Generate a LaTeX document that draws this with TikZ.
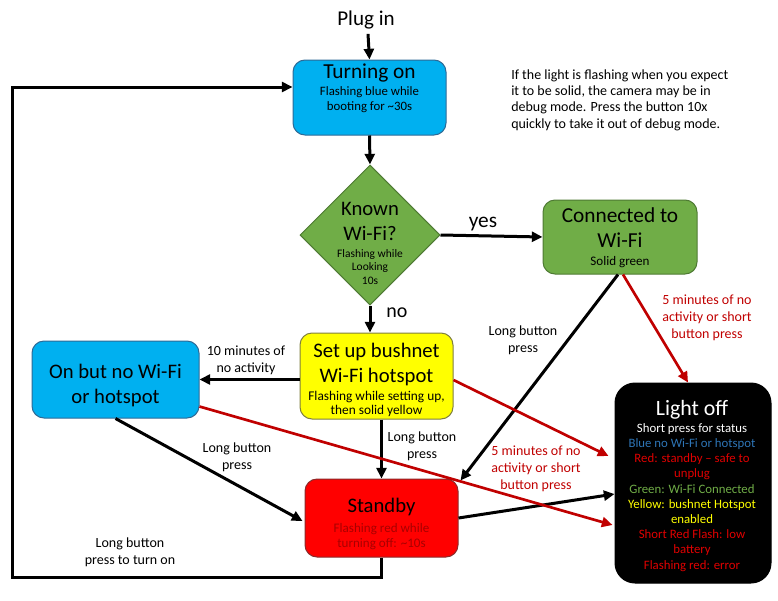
\documentclass[tikz,border=0pt]{standalone}
\usepackage{fontspec}
\setmainfont{Carlito}
\usetikzlibrary{shapes.geometric,arrows.meta,calc}
\definecolor{cyanfill}{HTML}{00B0F0}
\definecolor{cyanline}{HTML}{2E6A96}
\definecolor{greenfill}{HTML}{70AD47}
\definecolor{greenline}{HTML}{4E7A33}
\definecolor{yellowfill}{HTML}{FFFF00}
\definecolor{yellowline}{HTML}{7F7F40}
\definecolor{redfill}{HTML}{FF0000}
\definecolor{redline}{HTML}{8B2B2B}
\definecolor{darkred}{HTML}{C00000}
\definecolor{sbtext}{HTML}{A80000}
\definecolor{lblue}{HTML}{2E75B6}
\definecolor{lred}{HTML}{E00000}
\definecolor{lgreen}{HTML}{70AD47}
\definecolor{lyellow}{HTML}{FFFF00}
\begin{document}
\begin{tikzpicture}[x=0.75pt,y=-0.75pt,
  box/.style={draw, line width=0.75pt, rounded corners=9pt, inner sep=0pt},
  txt/.style={inner sep=0pt, anchor=base, align=center},
  bigtxt/.style={txt, font=\fontsize{16}{18.75}\selectfont},
  smalltxt/.style={txt, font=\fontsize{9.8}{11.25}\selectfont},
  lab/.style={txt, font=\fontsize{10.5}{12.4}\selectfont},
  redlab/.style={lab, text=darkred},
  arr/.style={-{Triangle[length=8pt,width=7.5pt]}, line width=2.25pt},
  redarr/.style={arr, draw=darkred, line width=2pt}]
\useasboundingbox (0,0) rectangle (778,600);

% boxes
\node[box, fill=cyanfill, draw=cyanline, minimum width=114.75pt, minimum height=56.25pt] (on) at (369.5,97.5) {};
\node[diamond, draw=greenline, fill=greenfill, line width=0.75pt, inner sep=0pt, minimum width=105pt, minimum height=105pt] (kw) at (370,235) {};
\node[box, fill=greenfill, draw=greenline, minimum width=115.5pt, minimum height=55.5pt] (conn) at (620,237) {};
\node[box, fill=yellowfill, draw=yellowline, minimum width=114.75pt, minimum height=64.5pt] (setup) at (376.5,376) {};
\node[box, fill=cyanfill, draw=cyanline, minimum width=125.25pt, minimum height=57.75pt] (onbut) at (115.5,379.5) {};
\node[box, fill=redfill, draw=redline, minimum width=114.75pt, minimum height=58.5pt] (sb) at (381.5,518) {};
\node[box, fill=black, draw=black, rounded corners=15pt, minimum width=117pt, minimum height=150pt] (loff) at (693,483) {};

% texts in boxes (multi-line: y = baseline of last line)
\node[txt, font=\fontsize{15.8}{18}\selectfont] (plug) at (366,25) {Plug in};
\node[bigtxt] (ont) at (369.5,78) {Turning on};
\node[txt, font=\fontsize{9.6}{11.25}\selectfont] (ons) at (369.5,110) {Flashing blue while\\booting for \textasciitilde30s};
\node[txt, font=\fontsize{15.5}{18.75}\selectfont] (kwt) at (370,240) {Known\\Wi-Fi?};
\node[txt, font=\fontsize{8.6}{10.1}\selectfont] (kws) at (370,284) {Flashing while\\Looking\\10s};
\node[bigtxt] (connt) at (620,247) {Connected to\\Wi-Fi};
\node[smalltxt] (conns) at (620,265) {Solid green};
\node[txt, font=\fontsize{15.5}{18.75}\selectfont] (setupt) at (376.5,382) {Set up bushnet\\Wi-Fi hotspot};
\node[txt, font=\fontsize{10}{10.5}\selectfont] (setups) at (376.5,414) {Flashing while setting up,\\then solid yellow};
\node[txt, font=\fontsize{15.5}{18.75}\selectfont] (onbutt) at (115.5,403) {On but no Wi-Fi\\or hotspot};
\node[txt, font=\fontsize{15.5}{18.75}\selectfont] (sbt) at (381.5,512) {Standby};
\node[txt, font=\fontsize{9.8}{11.25}\selectfont, text=sbtext] (sbs) at (381.5,547) {Flashing red while\\turning off: \textasciitilde10s};
\node[txt, font=\fontsize{16.4}{18}\selectfont, text=white] (lofft) at (692,415) {Light off};
\node[txt, font=\fontsize{9.6}{11.4}\selectfont] (loffs) at (692,569) {%
\textcolor{white}{Short press for status}\\
\textcolor{lblue}{Blue no Wi-Fi or hotspot}\\
\textcolor{lred}{Red: standby -- safe to}\\
\textcolor{lred}{unplug}\\
\textcolor{lgreen}{Green: Wi-Fi Connected}\\
\textcolor{lyellow}{Yellow: bushnet Hotspot}\\
\textcolor{lyellow}{enabled}\\
\textcolor{lred}{Short Red Flash: low}\\
\textcolor{lred}{battery}\\
\textcolor{lred}{Flashing red: error}};

% note
\node[txt, anchor=base west, align=left, font=\fontsize{10.5}{12.25}\selectfont] (note) at (511,128) {If the light is flashing when you expect\\it to be solid, the camera may be in\\debug mode. Press the button 10x\\quickly to take it out of debug mode.};

% edge labels
\node[txt, font=\fontsize{16}{18}\selectfont] (yes) at (483,227) {yes};
\node[txt, font=\fontsize{15}{18}\selectfont] (no) at (397,317) {no};
\node[lab] (l10) at (246,372) {10 minutes of\\no activity};
\node[lab] (llong1) at (237,469) {Long button\\press};
\node[lab] (llong2) at (422,458) {Long button\\press};
\node[lab] (llong3) at (523,352) {Long button\\press};
\node[lab] (llong4) at (130,564) {Long button\\press to turn on};
\node[redlab] (l5a) at (707,338) {5 minutes of no\\activity or short\\button press};
\node[redlab] (l5b) at (536,489) {5 minutes of no\\activity or short\\button press};

% coordinates for loop
\coordinate (c1) at (12,577);
\coordinate (c2) at (12,87);

% connectors
\draw[arr] (plug.south) ++(2,5) -- (on.north);
\draw[arr] (on.south) -- (kw.north);
\draw[arr] (kw.east) -- (conn.west);
\draw[arr] (kw.south) -- (kw.south |- setup.north);
\draw[arr] (setup.west |- onbut.east) -- (onbut.east);
\draw[arr] (sb.north |- setup.south) -- (sb.north);
\draw[arr] (onbut.south) -- ($(sb.west)+(-2,3)$);
\draw[arr] ($(conn.south)+(-2,0)$) -- ($(sb.north east)+(2,2)$);
\draw[arr] (sb.east) -- ($(loff.west)+(0,11)$);
\draw[arr] (sb.south) -- (sb.south |- c1) -- (c1) -- (c2) -- (on.west |- c2);
\draw[redarr] ($(conn.south)+(3,0)$) -- ($(loff.north)+(-5,0)$);
\draw[redarr] ($(setup.east)+(0,4)$) -- ($(loff.west)+(-6,-27)$);
\draw[redarr] ($(onbut.east)+(0,27)$) -- ($(loff.west)+(-2,42)$);
\end{tikzpicture}
\end{document}
